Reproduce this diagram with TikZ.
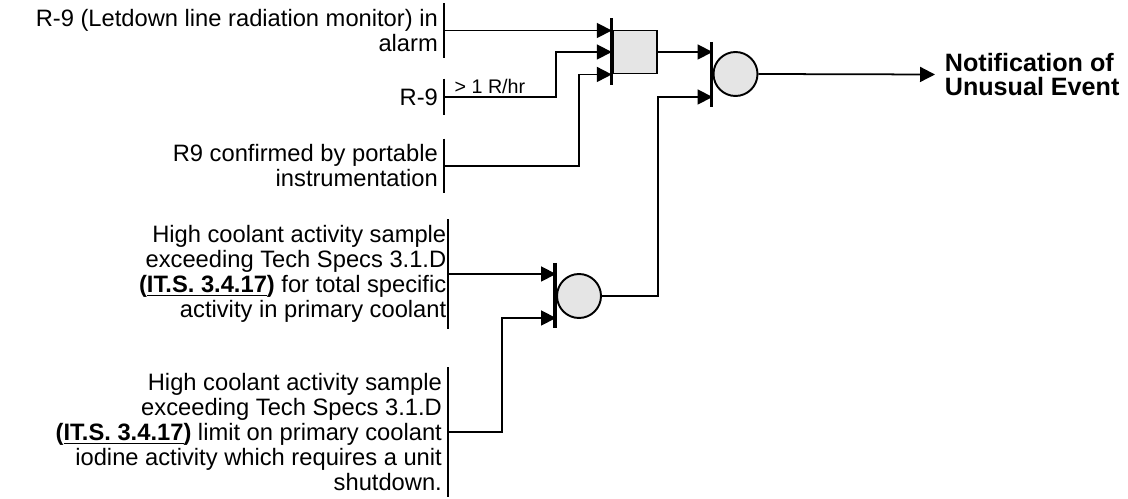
\documentclass[tikz,border=0pt]{standalone}
\usepackage{fontspec}
\setmainfont{Liberation Sans}
\usetikzlibrary{arrows.meta,calc,positioning}
\tikzset{cond/.style={align=right, anchor=east, inner xsep=3pt, inner ysep=3pt, minimum height=0.7cm},
  condbar/.style={line width=1.3pt},
  gatebar/.style={line width=1.9pt},
  andgate/.style={draw, line width=1.1pt, fill=gray!20, minimum width=0.89cm, minimum height=0.86cm, inner sep=0pt},
  orgate/.style={draw, circle, line width=1.1pt, fill=gray!20, minimum size=0.88cm, inner sep=0pt}}

\begin{document}
\begin{tikzpicture}[x=0.02cm, y=-0.02cm, >={Triangle[length=0.3cm,width=0.3cm]}, line width=1pt, font=\fontsize{13.5}{14.2}\selectfont]
\useasboundingbox (0,0) rectangle (1128,499);
\node[cond] (C1) at (444,30.5) {R-9 (Letdown line radiation monitor) in\\alarm};
\node[cond] (C2) at (444,97) {R-9};
\node[cond] (C3) at (444,166) {R9 confirmed by portable\\instrumentation};
\node[cond, inner xsep=0.5pt] (C4) at (448,274) {High coolant activity sample\\exceeding Tech Specs 3.1.D\\\textbf{(\underline{IT.S. 3.4.17})} for total specific\\activity in primary coolant};
\node[cond] (C5) at (448,432) {High coolant activity sample\\exceeding Tech Specs 3.1.D\\\textbf{(\underline{IT.S. 3.4.17})} limit on primary coolant\\iodine activity which requires a unit\\shutdown.};
\node[andgate] (G1) at (635,52) {};
\node[orgate] (G2) at (735.5,74) {};
\node[orgate] (G3) at (579,296) {};
\node[anchor=west, align=left, inner xsep=0.18cm, font=\fontsize{14.3}{14.2}\selectfont\bfseries] (N) at (935,74.5) {Notification of\\Unusual Event};
\foreach \c in {C1,C2,C3,C4,C5}
  \draw[condbar] (\c.north east) -- (\c.south east);
\draw[gatebar] ($(G1.west)+(0,-33.5)$) -- ($(G1.west)+(0,33.5)$);
\draw[gatebar] ($(G2.west)+(-1,-32)$) -- ($(G2.west)+(-1,33)$);
\draw[gatebar] ($(G3.west)+(-1,-33)$) -- ($(G3.west)+(-1,32)$);
\draw[->] (C1.east) -- (C1.east -| G1.west);
\draw[->] (C2.east) -- node[above, pos=0.41, inner sep=1.5pt, font=\fontsize{11.2}{12}\selectfont] {> 1 R/hr} ++(112,0) |- (G1.west);
\draw[->] (C3.east) -- ++(135,0) |- (G1.south west);
\draw[->] (G1.east) -- (G1.east -| G2.west);
\draw[->] (G3.east) -- ++(56,0) |- ($(G2.west)+(0,23)$);
\draw[->] (C4.east) -- ($(G3.west)+(0,-22)$);
\draw[->] (C5.east) -- ++(54,0) |- ($(G3.west)+(0,22)$);
\draw[->] (G2.east) -- (N.west);
\end{tikzpicture}
\end{document}
